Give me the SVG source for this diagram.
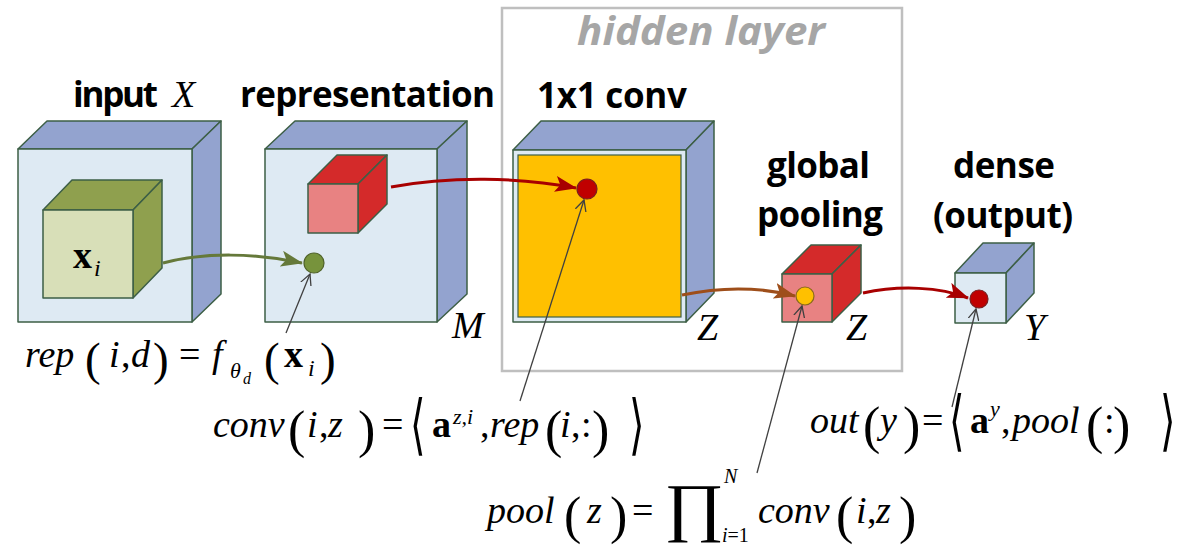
<svg xmlns="http://www.w3.org/2000/svg" width="1192" height="547" viewBox="0 0 1192 547">
<style>
.lbl{font-family:"Open Sans",sans-serif;font-weight:bold;font-size:35px;fill:#000}
.hl{font-family:"Open Sans",sans-serif;font-weight:bold;font-style:italic;font-size:40px;fill:#A6A6A6}
.m{font-family:"Liberation Serif","Times New Roman",serif;font-style:italic;font-size:38px;fill:#000}
.u{font-style:normal}
.b{font-style:normal;font-weight:bold}
.p{font-style:normal;font-size:52px}
.p46{font-style:normal;font-size:47px}
.prod{font-family:"Liberation Serif","Times New Roman",serif;font-style:normal;font-size:65px;fill:#000}
.ang{font-family:"DejaVu Sans",sans-serif;font-style:normal;font-size:66px;fill:#000}
.edge{stroke:#3D5F46;stroke-width:1.5;stroke-linejoin:round}
.face{fill:#DEEAF3}
.side{fill:#93A3CF}
.ptr{fill:none;stroke:#404040;stroke-width:1.3}
.flow{fill:none;stroke-width:3}
</style>
<defs>
<marker id="ahG" markerUnits="userSpaceOnUse" viewBox="0 0 22 16" markerWidth="22" markerHeight="16" refX="21" refY="8" orient="auto"><path d="M0,0 L22,8 L0,16 L5,8 z" fill="#65793A"/></marker>
<marker id="ahR" markerUnits="userSpaceOnUse" viewBox="0 0 22 16" markerWidth="22" markerHeight="16" refX="21" refY="8" orient="auto"><path d="M0,0 L22,8 L0,16 L5,8 z" fill="#A80000"/></marker>
<marker id="ahB" markerUnits="userSpaceOnUse" viewBox="0 0 22 16" markerWidth="22" markerHeight="16" refX="21" refY="8" orient="auto"><path d="M0,0 L22,8 L0,16 L5,8 z" fill="#9E4E1A"/></marker>
<marker id="ahO" markerUnits="userSpaceOnUse" viewBox="0 0 12 12" markerWidth="12" markerHeight="12" refX="11" refY="6" orient="auto"><path d="M0,0.5 L11,6 L0,11.5" fill="none" stroke="#404040" stroke-width="1.3"/></marker>
</defs>

<g id="hidden-layer">
<rect x="502" y="8" width="400" height="363" fill="none" stroke="#BFBFBF" stroke-width="2.5"/>
<text class="hl" x="577" y="45" textLength="248" lengthAdjust="spacingAndGlyphs">hidden layer</text>
</g>

<g id="input">
<text class="lbl" x="73" y="107" textLength="85">input</text>
<text class="m" x="172" y="107">X</text>
<polygon class="edge side" points="18,149 47,121 221,121 192,149"/>
<polygon class="edge side" points="192,149 221,121 221,294 192,322"/>
<rect class="edge face" x="18" y="149" width="174" height="173"/>
<polygon class="edge" fill="#8FA04E" points="43,210 72,180 162,180 133,210"/>
<polygon class="edge" fill="#8FA04E" points="133,210 162,180 162,268 133,298"/>
<rect class="edge" fill="#D8DFB8" x="43" y="210" width="90" height="88"/>
<text class="m" x="73" y="268"><tspan class="b">x</tspan><tspan font-size="24" x="94" y="276">i</tspan></text>
</g>

<g id="representation">
<text class="lbl" x="240" y="107" textLength="255">representation</text>
<polygon class="edge side" points="265,149 295,121 467,121 437,149"/>
<polygon class="edge side" points="437,149 467,121 467,294 437,322"/>
<rect class="edge face" x="265" y="149" width="172" height="173"/>
<polygon class="edge" fill="#D42A2A" points="308,184 337,155 387,155 358,184"/>
<polygon class="edge" fill="#D42A2A" points="358,184 387,155 387,204 358,233"/>
<rect class="edge" fill="#E88282" x="308" y="184" width="50" height="49"/>
<circle cx="314" cy="263" r="10" fill="#77933C" stroke="#4F6228" stroke-width="1.2"/>
<text class="m" x="452" y="338">M</text>
</g>

<g id="conv">
<text class="lbl" x="537" y="108" textLength="150">1x1 conv</text>
<polygon class="edge side" points="513,150 541,121 714,121 686,150"/>
<polygon class="edge side" points="686,150 714,121 714,293 686,322"/>
<rect class="edge face" x="513" y="150" width="173" height="172"/>
<rect x="518" y="155" width="163" height="162" fill="#FFC000" stroke="#3D5F46" stroke-width="1.2"/>
<circle cx="587" cy="189" r="10" fill="#C00000" stroke="#7A1E1E" stroke-width="1.2"/>
<text class="m" x="697" y="340">Z</text>
</g>

<g id="pooling">
<text class="lbl" x="767" y="178" textLength="103">global</text>
<text class="lbl" x="757" y="227" textLength="126">pooling</text>
<polygon class="edge" fill="#D42A2A" points="782,274 811,245 861,245 832,274"/>
<polygon class="edge" fill="#D42A2A" points="832,274 861,245 861,293 832,322"/>
<rect class="edge" fill="#E88282" x="782" y="274" width="50" height="48"/>
<circle cx="805" cy="296" r="9" fill="#FFC000" stroke="#8A6A1A" stroke-width="1.2"/>
<text class="m" x="846" y="340">Z</text>
</g>

<g id="dense">
<text class="lbl" x="953" y="178" textLength="102">dense</text>
<text class="lbl" x="933" y="228" textLength="140">(output)</text>
<polygon class="edge side" points="955,273 983,243 1034,243 1006,273"/>
<polygon class="edge side" points="1006,273 1034,243 1034,293 1006,323"/>
<rect class="edge face" x="955" y="273" width="51" height="50"/>
<circle cx="979" cy="299" r="9" fill="#C00000" stroke="#7A1E1E" stroke-width="1.2"/>
<text class="m" x="1024" y="340">Y</text>
</g>

<g id="connectors">
<path class="flow" stroke="#65793A" d="M163,263 C205,252 255,253 302,263" marker-end="url(#ahG)"/>
<path class="flow" stroke="#A80000" d="M391,187 C450,176 520,177 576,188" marker-end="url(#ahR)"/>
<path class="flow" stroke="#9E4E1A" d="M682,295 C720,287 760,287 795,296" marker-end="url(#ahB)"/>
<path class="flow" stroke="#A80000" d="M863,293 C900,285 940,287 968,298" marker-end="url(#ahR)"/>
<line class="ptr" x1="286" y1="333" x2="310" y2="274" marker-end="url(#ahO)"/>
<line class="ptr" x1="520" y1="401" x2="584" y2="200" marker-end="url(#ahO)"/>
<line class="ptr" x1="757" y1="473" x2="802" y2="306" marker-end="url(#ahO)"/>
<line class="ptr" x1="952" y1="407" x2="976" y2="309" marker-end="url(#ahO)"/>
</g>

<g id="formula-rep">
<text class="m" y="367"><tspan x="25">rep</tspan><tspan class="p46" x="85" y="375">(</tspan><tspan x="109" y="367">i</tspan><tspan class="u" x="121">,</tspan><tspan x="131">d</tspan><tspan class="p46" x="153" y="375">)</tspan><tspan class="u" x="179" y="367">=</tspan><tspan x="212">f</tspan><tspan x="230" y="378" font-size="22">θ</tspan><tspan x="243" y="384" font-size="16">d</tspan><tspan class="p46" x="264" y="375">(</tspan><tspan class="b" x="284" y="367">x</tspan><tspan x="308" y="376" font-size="24">i</tspan><tspan class="p46" x="320" y="375">)</tspan></text>
</g>

<g id="formula-conv">
<text class="m" y="437"><tspan x="213">conv</tspan><tspan class="p" x="288" y="447">(</tspan><tspan x="307" y="437">i</tspan><tspan class="u" x="319">,</tspan><tspan x="328">z</tspan><tspan class="p" x="358" y="447">)</tspan><tspan class="u" x="382" y="437">=</tspan><tspan class="b" x="432" y="437">a</tspan><tspan x="453" y="424" font-size="22">z,i</tspan><tspan class="u" x="480" y="437">,</tspan><tspan x="490">rep</tspan><tspan class="p" x="545" y="447">(</tspan><tspan x="560" y="437">i</tspan><tspan class="u" x="571">,</tspan><tspan class="u" x="581">:</tspan><tspan class="p" x="592" y="447">)</tspan></text>
<text class="ang" transform="translate(410,447) scale(0.6,1)">⟨</text>
<text class="ang" transform="translate(629,447) scale(0.6,1)">⟩</text>
</g>

<g id="formula-pool">
<text class="m" y="523"><tspan x="487">pool</tspan><tspan class="p" x="564" y="533">(</tspan><tspan x="587" y="523">z</tspan><tspan class="p" x="610" y="533">)</tspan><tspan class="u" x="632" y="523">=</tspan><tspan x="724" y="483" font-size="20">N</tspan><tspan x="722" y="542" font-size="20">i</tspan><tspan class="u" font-size="20">=1</tspan><tspan x="758" y="523">conv</tspan><tspan class="p" x="836" y="533">(</tspan><tspan x="856" y="523">i</tspan><tspan class="u" x="867">,</tspan><tspan x="876">z</tspan><tspan class="p" x="899" y="533">)</tspan></text>
<text class="prod" transform="translate(664,529) scale(1.12,1)">∏</text>
</g>

<g id="formula-out">
<text class="m" y="433"><tspan x="810">out</tspan><tspan class="p" x="863" y="443">(</tspan><tspan x="880" y="433">y</tspan><tspan class="p" x="903" y="443">)</tspan><tspan class="u" x="922" y="433">=</tspan><tspan class="b" x="970" y="433">a</tspan><tspan x="990" y="416" font-size="22">y</tspan><tspan class="u" x="1001" y="433">,</tspan><tspan x="1012">pool</tspan><tspan class="p" x="1086" y="443">(</tspan><tspan class="u" x="1104" y="433">:</tspan><tspan class="p" x="1113" y="443">)</tspan></text>
<text class="ang" transform="translate(949,443) scale(0.6,1)">⟨</text>
<text class="ang" transform="translate(1160,443) scale(0.6,1)">⟩</text>
</g>
</svg>
